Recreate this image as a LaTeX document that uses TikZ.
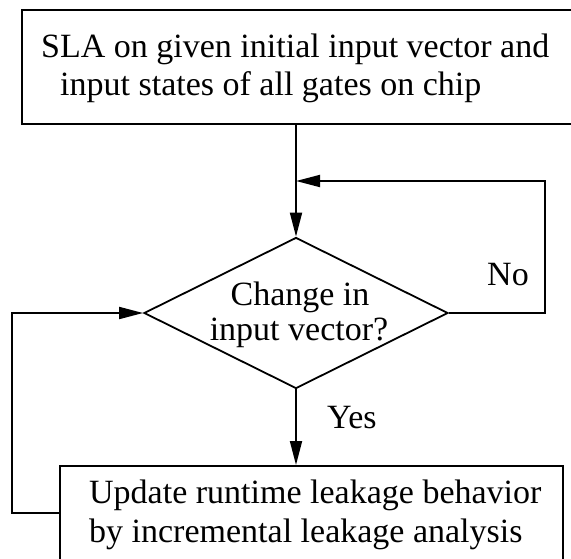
\documentclass[tikz,border=0pt]{standalone}
\usepackage{fontspec}
\setmainfont{Liberation Serif}
\usetikzlibrary{shapes.geometric,arrows.meta}
\tikzset{
  box/.style={draw, line width=1.8pt, rectangle, inner sep=0pt, anchor=north west},
  decision/.style={draw, line width=1.8pt, diamond, inner sep=0pt},
  txt/.style={inner sep=0pt, anchor=base west, font=\fontsize{34}{38}\selectfont},
  ctxt/.style={inner sep=0pt, anchor=base, font=\fontsize{34}{38}\selectfont},
  flow/.style={line width=1.8pt, -{Triangle[length=24pt,width=12pt]}},
}
\begin{document}
\begin{tikzpicture}[x=1pt, y=-1pt]
\useasboundingbox (0,0) rectangle (571,558);
\clip (0,0) rectangle (571,558);

% process boxes
\node[box, minimum width=559pt, minimum height=114pt] (init) at (21,9) {};
\node[box, minimum width=503pt, minimum height=94pt] (update) at (59,465) {};

% decision
\node[decision, minimum width=304pt, minimum height=151pt] (dec) at (296,313) {};

% box texts
\node[txt] (initA) at (41,57) {SLA on given initial input vector and};
\node[txt] (initB) at (60,95) {input states of all gates on chip};
\node[txt] (updA) at (89,503) {Update runtime leakage behavior};
\node[txt] (updB) at (89,542) {by incremental leakage analysis};
\node[ctxt] (decA) at (300,305) {Change in};
\node[ctxt] (decB) at (299,340) {input vector?};

% branch labels
\node[txt] (no) at (487,285) {No};
\node[txt] (yes) at (327,428) {Yes};

% connectors
\coordinate (join) at (296,181);
\draw[flow] (dec.north |- init.south) -- (dec.north);
\draw[flow] (dec.east) -- ++(96,0) |- (join);
\draw[flow] (dec.south) -- (dec.south |- update.north);
\draw[flow] (update.west) -- ++(-47,0) |- (dec.west);
\end{tikzpicture}
\end{document}
